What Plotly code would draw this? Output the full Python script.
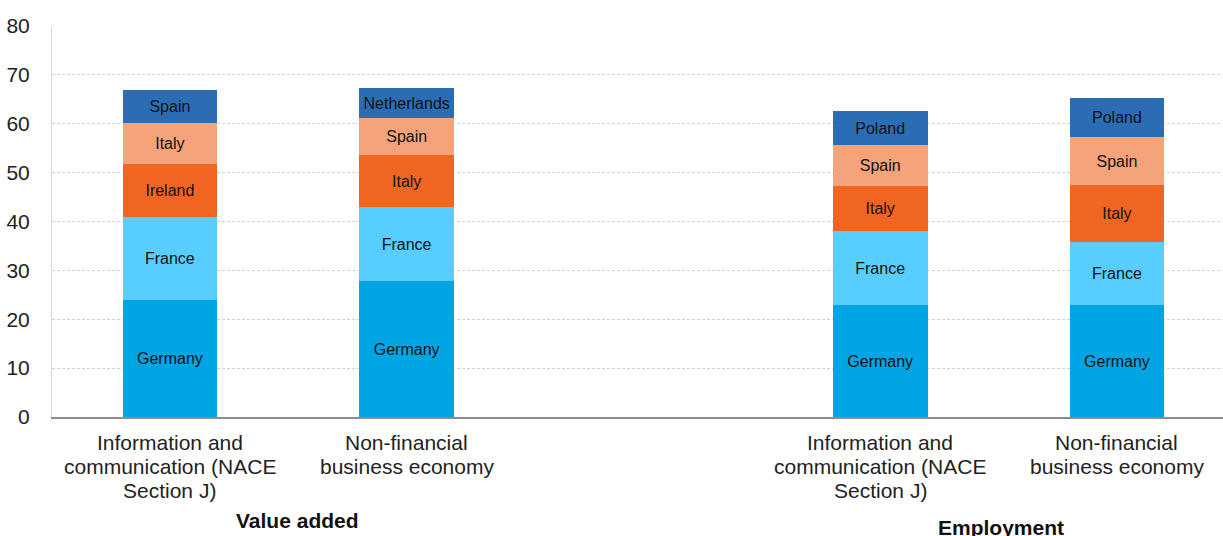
import plotly.graph_objects as go

# Bar slots: two "Value added" bars, an empty gap, two "Employment" bars
bar_x = [0, 1, 3, 4]
category_lines = [
    ["Information and", "communication (NACE", "Section J)"],
    ["Non-financial", "business economy"],
    ["Information and", "communication (NACE", "Section J)"],
    ["Non-financial", "business economy"],
]
group_labels = ["Value added", "Employment"]
group_x = [0.54, 3.51]

# Stacked shares (%) by rank within each bar, bottom to top
rank1_vals = [23.9, 27.8, 22.9, 22.9]
rank2_vals = [17.0, 15.1, 15.1, 12.9]
rank3_vals = [10.8, 10.7, 9.2, 11.6]
rank4_vals = [8.4, 7.5, 8.4, 9.9]
rank5_vals = [6.8, 6.2, 7.0, 7.9]

rank1_names = ["Germany", "Germany", "Germany", "Germany"]
rank2_names = ["France", "France", "France", "France"]
rank3_names = ["Ireland", "Italy", "Italy", "Italy"]
rank4_names = ["Italy", "Spain", "Spain", "Spain"]
rank5_names = ["Spain", "Netherlands", "Poland", "Poland"]

rank_colors = ["#00A5E3", "#57CEFF", "#F06522", "#F5A37B", "#2A6DB5"]

layers = [
    (rank1_vals, rank1_names),
    (rank2_vals, rank2_names),
    (rank3_vals, rank3_names),
    (rank4_vals, rank4_names),
    (rank5_vals, rank5_names),
]

FONT = "Liberation Sans, Arial, sans-serif"
PLOT_TOP, PLOT_BOTTOM = 26, 417
PLOT_H = PLOT_BOTTOM - PLOT_TOP


def below_axis(py):
    """Paper y coordinate for a pixel row below the x axis."""
    return -(py - PLOT_BOTTOM) / PLOT_H


fig = go.Figure()
for (vals, names), color in zip(layers, rank_colors):
    fig.add_trace(go.Bar(
        x=bar_x,
        y=vals,
        text=names,
        texttemplate="%{text}",
        textposition="inside",
        insidetextanchor="middle",
        textangle=0,
        textfont=dict(family=FONT, size=16, color="#111111"),
        marker=dict(color=color, line=dict(width=0)),
        width=0.40,
        showlegend=False,
        hoverinfo="skip",
    ))

annotations = []
# Multi-line category labels under each bar
line_rows = [442, 466, 491]
for xv, lines in zip(bar_x, category_lines):
    for row, line in zip(line_rows, lines):
        annotations.append(dict(
            text=line, x=xv, xref="x", y=below_axis(row), yref="paper",
            showarrow=False, xanchor="center", yanchor="middle",
            font=dict(family=FONT, size=21, color="#222222"),
        ))
# Group titles
for gx, label, row in zip(group_x, group_labels, [520, 527]):
    annotations.append(dict(
        text="<b>" + label + "</b>", x=gx, xref="x", y=below_axis(row), yref="paper",
        showarrow=False, xanchor="center", yanchor="middle",
        font=dict(family=FONT, size=21, color="#111111"),
    ))

fig.update_layout(
    barmode="stack",
    width=1223,
    height=536,
    margin=dict(l=52, r=0, t=PLOT_TOP, b=536 - PLOT_BOTTOM),
    paper_bgcolor="white",
    plot_bgcolor="white",
    font=dict(family=FONT, size=21, color="#222222"),
    uniformtext=dict(mode=False),
    xaxis=dict(
        range=[-0.498, 4.448],
        showticklabels=False,
        showgrid=False,
        zeroline=False,
        showline=True,
        linecolor="#8c8c8c",
        linewidth=2,
        ticks="",
        fixedrange=True,
    ),
    yaxis=dict(
        range=[0, 80],
        tickvals=[0, 10, 20, 30, 40, 50, 60, 70, 80],
        tickfont=dict(family=FONT, size=21, color="#222222"),
        showgrid=True,
        gridcolor="#d2d2d2",
        gridwidth=1,
        griddash="3px,2px",
        zeroline=False,
        showline=True,
        linecolor="#d8d8d8",
        linewidth=1,
        ticks="",
        ticklabelstandoff=17,
        fixedrange=True,
    ),
    annotations=annotations,
)

fig.write_html("out.html")
